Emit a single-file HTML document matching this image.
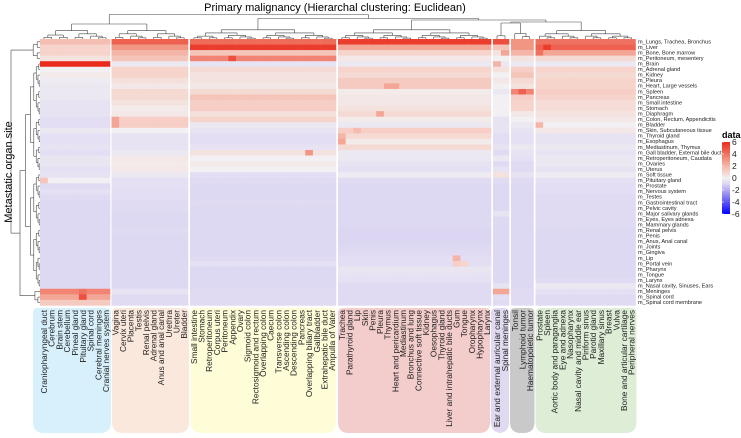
<!DOCTYPE html>
<html><head><meta charset="utf-8"><style>
html,body{margin:0;padding:0;background:#fff;}
body{width:741px;height:433px;overflow:hidden;font-family:"Liberation Sans",sans-serif;}
</style></head><body>
<svg id="chart" width="741" height="433" xmlns="http://www.w3.org/2000/svg" font-family="Liberation Sans, sans-serif">
<text x="335" y="11" font-size="11" text-anchor="middle" fill="#000">Primary malignancy (Hierarchal clustering: Euclidean)</text>
<text transform="translate(12,172) rotate(-90)" font-size="11" text-anchor="middle" fill="#000">Metastatic organ site</text>
<g id="boxes"></g><g id="cells"></g><g id="dendro"></g><g id="rowlabels"></g><g id="collabels"></g><g id="legend"></g>
</svg>
<script>
const NS="http://www.w3.org/2000/svg";
const rowNames=["m_Lungs, Trachea, Bronchus","m_Liver","m_Bone, Bone marrow","m_Peritoneum, mesentery","m_Brain","m_Adrenal gland","m_Kidney","m_Pleura","m_Heart, Large vessels","m_Spleen","m_Pancreas","m_Small intestine","m_Stomach","m_Diaphragm","m_Colon, Rectum, Appendicitis","m_Bladder","m_Skin, Subcutaneous tissue","m_Thyroid gland","m_Esophagus","m_Mediastinum, Thymus","m_Gall bladder, External bile duct","m_Retroperitoneum, Caudata","m_Ovaries","m_Uterus","m_Soft tissue","m_Pituitary gland","m_Prostate","m_Nervous system","m_Testes","m_Gastrointestinal tract","m_Pelvic cavity","m_Major salivary glands","m_Eyes, Eyes adnexa","m_Mammary glands","m_Renal pelvis","m_Penis","m_Anus, Anal canal","m_Joints","m_Gingiva","m_Lip","m_Portal vein","m_Pharynx","m_Tongue","m_Larynx","m_Nasal cavity, Sinuses, Ears","m_Meninges","m_Spinal cord","m_Spinal cord membrane"];
const groupCols=[
["Craniopharyngeal duct","Cerebrum","Brain stem","Cerebellum","Pineal gland","Pituitary gland","Spinal cord","Cerebral meninges","Cranial nerves system"],
["Vagina","Cervix uteri","Placenta","Testis","Renal pelvis","Adrenal gland","Anus and anal canal","Urethra","Ureter","Bladder"],
["Small intestine","Stomach","Retroperitoneum","Corpus uteri","Peritoneum","Appendix","Ovary","Sigmoid colon","Rectosigmoid and rectum","Overlapping colon","Caecum","Transverse colon","Ascending colon","Descending colon","Pancreas","Overlapping biliary tract","Gallbladder","Extrahepatic bile duct","Ampulla of Vater"],
["Trachea","Parathyroid gland","Lip","Skin","Penis","Pleura","Thymus","Heart and pericardium","Mediastinum","Bronchus and lung","Connective soft tissue","Kidney","Oesophagus","Thyroid gland","Liver and intrahepatic bile ducts","Gum","Tongue","Oropharynx","Hypopharynx","Larynx"],
["Ear and external auricular canal","Spinal meninges"],
["Tonsil","Lymphoid tumor","Haematopoietic tumor"],
["Prostate","Spleen","Aortic body and paraganglia","Eye and adnexa","Nasopharynx","Nasal cavity and middle ear","Piriform sinus","Parotid gland","Maxillary sinus","Breast","Vulva","Bone and articular cartilage","Peripheral nerves"]];
// values per row, per column group (G1..G7)
const groupValues=[
[1.7,4.5,4.2,5.5,5,3,4],[1,3,5.5,2.5,1.5,3,4.5],[1,2,1.5,1,2.5,2,2.5],[0.5,1.5,3.5,0.3,0,0.5,0.8],
[6,-0.3,-0.5,-0.3,2,-0.3,-0.3],[0,1,0.8,1,0.5,1.2,1],[0.2,1,0.5,0.8,0,1.5,0.8],[-0.2,0.6,0.5,1.3,0.3,0.8,1],
[-0.3,0.3,0.3,1.3,0,0.5,1],[-0.3,0.8,0.8,0.2,-0.3,3.5,1.2],[-0.3,0.8,1.5,0.3,0,1.2,1],[-0.5,0.5,1.2,0.3,0,1,0.7],
[-0.5,0.2,1.2,0.5,0,1,0.7],[-0.5,0.3,0.6,0.8,0,0.3,0.5],[-0.7,1.2,1,0.2,-0.5,0,0.3],[-0.7,1.2,-0.3,-0.3,-0.5,-0.3,0],
[-0.3,0,-0.5,1.2,-0.5,-0.5,0.3],[-0.6,-0.5,-0.7,0.8,-0.7,-0.6,-0.5],[-0.6,-0.5,-0.7,0.2,-0.7,-0.6,-0.5],[-0.5,-0.5,-0.5,0.8,-0.5,-0.3,-0.3],
[-0.7,-0.3,0.5,-0.3,-0.8,-0.5,-0.5],[-0.4,0.3,0,-0.3,-0.3,-0.6,-0.3],[-0.4,0.2,0.2,-0.5,-0.8,-0.8,-0.3],[-0.6,0.3,0,-0.6,-0.5,-0.8,-0.5],
[-0.5,-0.3,-0.7,-0.2,0.5,-0.5,-0.2],[0,-0.6,-0.8,-0.8,-0.8,-0.8,-0.6],[-0.8,-0.6,-0.9,-0.9,-0.9,-0.9,-0.7],[-0.6,-0.7,-0.9,-0.9,-0.9,-0.9,-0.7],
[-0.8,-0.7,-0.9,-0.9,-0.9,-0.9,-0.8],[-0.9,-0.8,-0.8,-0.9,-0.9,-0.9,-0.8],[-0.9,-0.8,-0.9,-0.9,-0.9,-0.9,-0.8],[-0.9,-0.9,-0.9,-0.9,-0.5,-0.9,-0.8],
[-0.9,-0.9,-0.9,-0.9,-0.9,-0.9,-0.8],[-0.9,-0.9,-0.9,-0.9,-0.9,-0.9,-0.8],[-0.9,-0.8,-0.9,-1,-0.9,-0.9,-0.9],[-0.9,-0.9,-0.9,-1,-0.9,-0.9,-0.9],
[-0.9,-0.9,-0.9,-1,-0.9,-0.9,-0.9],[-0.9,-0.9,-0.9,-0.9,-0.9,-0.9,-0.9],[-0.9,-0.9,-0.9,-0.8,-0.9,-0.9,-0.9],[-0.9,-0.9,-0.8,-0.7,-0.9,-0.9,-0.9],
[-0.9,-0.9,-0.6,-0.7,-0.9,-0.9,-0.9],[-0.9,-0.9,-0.9,-0.4,-0.9,-0.9,-0.9],[-0.9,-0.9,-0.9,-0.5,-0.9,-0.9,-0.9],[-0.9,-0.9,-0.9,-0.6,-0.9,-0.9,-0.8],
[-0.9,-0.9,-0.9,-0.8,-0.5,-0.9,-0.3],[3.5,-0.5,-0.8,-0.8,2.5,-0.8,-0.6],[2.5,-0.8,-0.8,-0.8,-0.7,-0.8,-0.8],[1.3,-0.8,-0.8,-0.8,-0.8,-0.8,-0.8]];
// individual cell overrides: [row, group, colInGroup, value]
const cellOverrides=[[4,4,1,-0.3],[2,4,0,0.5],[25,0,0,1.5],[46,0,5,5],[45,0,5,4],[8,3,6,2.5],[8,3,7,2.5],[13,3,5,2.5],[17,3,0,2],[18,3,0,2.5],[16,3,2,1.8],[20,2,15,3],[14,1,0,2.5],[15,1,0,2.5],[15,6,0,2],[2,6,0,4],[1,6,1,5.5],[3,2,5,5],[9,5,1,4.5],[40,3,15,1.2],[40,3,16,1],[39,3,15,2]];
const legendTicks=[6,4,2,0,-2,-4,-6];
const groupX=[[40,110],[111.5,188],[190,336],[338,491],[493,509],[511,533.5],[535.5,635.5]];
const boxX=[[33,111],[112,189],[190.5,336],[338,490],[491,509],[510,534.5],[535.5,636.5]];
const boxColors=["#d7f0fb","#fbe8dc","#fefdd8","#f3cccc","#e1d9ef","#c9c9c9","#ddedd6"];
const top0=39,rowH=5.55;
function yRow(i){return top0+i*rowH;}
const stops=[[-6,[0,0,255]],[-3,[140,128,240]],[-1,[220,214,243]],[0,[242,240,242]],[1,[246,212,204]],[3,[242,150,132]],[6,[234,43,28]]];
function color(v){v=Math.max(-6,Math.min(6,v));for(let k=0;k<stops.length-1;k++){const a=stops[k],b=stops[k+1];if(v<=b[0]){const t=(v-a[0])/(b[0]-a[0]);const c=a[1].map((x,j)=>Math.round(x+(b[1][j]-x)*t));return `rgb(${c})`;}}return "rgb(234,43,28)";}
function mk(tag,attrs,parent){const e=document.createElementNS(NS,tag);for(const k in attrs)e.setAttribute(k,attrs[k]);parent.appendChild(e);return e;}
const G=id=>document.getElementById(id);
// boxes
boxX.forEach((b,g)=>{
 const x0=b[0],x1=b[1],y0=308,y1=433,r=11,rt=5;
 const p=mk("path",{d:`M${x0},${y0+rt} Q${x0},${y0} ${x0+rt},${y0} L${x1-rt},${y0} Q${x1},${y0} ${x1},${y0+rt} L${x1},${y1-r} Q${x1},${y1} ${x1-r},${y1} L${x0+r},${y1} Q${x0},${y1} ${x0},${y1-r} Z`,fill:boxColors[g]},G("boxes"));
 
 
});
// cells
const leafX=[];
groupCols.forEach((cols,g)=>{
 const [gx0,gx1]=groupX[g];const w=(gx1-gx0)/cols.length;
 cols.forEach((name,c)=>{
  const cx=gx0+c*w;leafX.push(cx+w/2);
  groupValues.forEach((row,r)=>{
   let v=row[g];
   cellOverrides.forEach(o=>{if(o[0]===r&&o[1]===g&&o[2]===c)v=o[3];});
   const rect=mk("rect",{x:cx.toFixed(2),y:yRow(r).toFixed(2),width:(w+0.3).toFixed(2),height:(rowH+0.3).toFixed(2),fill:color(v)},G("cells"));
   
   
  });
  const t=mk("text",{transform:`translate(${(cx+w/2+3).toFixed(1)},310) rotate(-90)`,"font-size":"8.3","text-anchor":"end",fill:"#222"},G("collabels"));
  t.textContent=name;
  
  
 });
});
rowNames.forEach((n,r)=>{
 const t=mk("text",{x:638,y:(yRow(r)+4.3).toFixed(2),"font-size":"5.6",fill:"#222"},G("rowlabels"));
 t.textContent=n;
 
 
});
// dendrograms (decorative)
const dg=G("dendro");
function line(x1,y1,x2,y2){const l=mk("line",{x1,y1,x2,y2,stroke:"#444","stroke-width":"0.6"},dg);}
function treeTop(xs,base,h,depth){ // returns [x,height]
 if(xs.length===1)return [xs[0],base];
 const m=Math.floor(xs.length/2);
 const a=treeTop(xs.slice(0,m),base,h*0.72,depth+1),b=treeTop(xs.slice(m),base,h*0.72,depth+1);
 const y=Math.min(a[1],b[1])-h;
 line(a[0],a[1],a[0],y);line(b[0],b[1],b[0],y);line(a[0],y,b[0],y);
 return [(a[0]+b[0])/2,y];
}
let idx=0;const groupTops=[];
groupCols.forEach(cols=>{const xs=leafX.slice(idx,idx+cols.length);idx+=cols.length;groupTops.push(treeTop(xs,39,3.2,0));});
function join(a,b,y){line(a[0],a[1],a[0],y);line(b[0],b[1],b[0],y);line(a[0],y,b[0],y);return [(a[0]+b[0])/2,y];}
const j56=join(groupTops[4],groupTops[5],23);const j567=join(j56,groupTops[6],22);
const j34=join(groupTops[3],j567,20);const j234=join(groupTops[2],j34,18.5);
const j1=join(groupTops[0],groupTops[1],24);join(j1,j234,14.5);
function treeRow(ys,base,h){
 if(ys.length===1)return [ys[0],base];
 const m=Math.floor(ys.length/2);
 const a=treeRow(ys.slice(0,m),base,h*0.7),b=treeRow(ys.slice(m),base,h*0.7);
 const x=Math.min(a[1],b[1])-h;
 line(a[1],a[0],x,a[0]);line(b[1],b[0],x,b[0]);line(x,a[0],x,b[0]);
 return [(a[0]+b[0])/2,x];
}
const ry=rowNames.map((n,i)=>yRow(i)+rowH/2);
const tA=treeRow(ry.slice(0,4),40,4),tB=treeRow(ry.slice(4,45),40,5),tC=treeRow(ry.slice(45),40,3);
const jBC=(function(){const x=20;line(tB[1],tB[0],x,tB[0]);line(tC[1],tC[0],x,tC[0]);line(x,tB[0],x,tC[0]);return [(tB[0]+tC[0])/2,x];})();
(function(){const x=11;line(tA[1],tA[0],x,tA[0]);line(jBC[1],jBC[0],x,jBC[0]);line(x,tA[0],x,jBC[0]);})();
// legend
const lg=G("legend");
const lt=mk("text",{x:722,y:138,"font-size":"9","font-weight":"bold",fill:"#000"},lg);lt.textContent="data";


const defs=mk("defs",{},lg);const grad=mk("linearGradient",{id:"lgGrad",x1:"0",y1:"0",x2:"0",y2:"1"},defs);
for(let k=0;k<=12;k++){mk("stop",{offset:(k/12).toFixed(3),"stop-color":color(6-k)},grad);}
const bar=mk("rect",{x:722,y:142,width:8,height:72,fill:"url(#lgGrad)"},lg);


function legY(v){return 142+(6-v)/12*72;}
legendTicks.forEach(v=>{
 mk("line",{x1:722,x2:724,y1:legY(v),y2:legY(v),stroke:"#fff","stroke-width":"0.6"},lg);
 const t=mk("text",{x:732,y:(legY(v)+3).toFixed(1),"font-size":"8.5",fill:"#222"},lg);
 t.textContent=v;
 
 
});
</script>
</body></html>
